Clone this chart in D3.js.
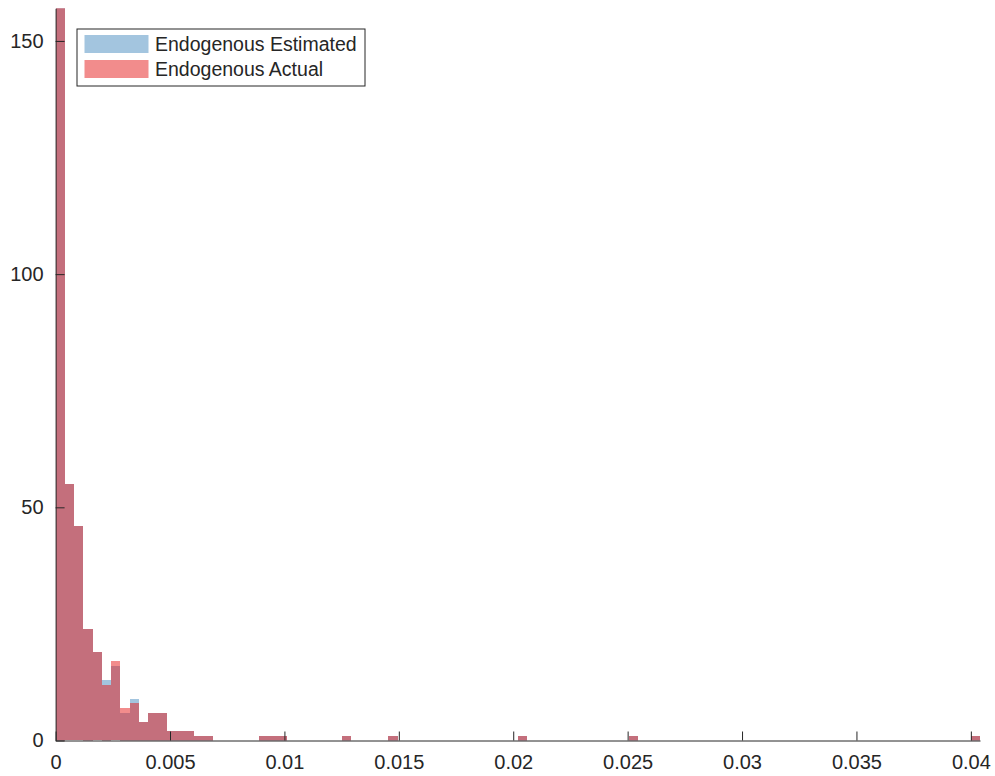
<!DOCTYPE html>
<html>
<head>
<meta charset="utf-8">
<script src="https://cdn.jsdelivr.net/npm/d3@7"></script>
<style>
    body { margin: 0; background: #fff; }
    text { font-family: "Liberation Sans", Arial, sans-serif; fill: #262626; }
</style>
</head>
<body>
<div id="chart"></div>
<script>
// Histogram bins (width 0.000404, starting at 0)
var binWidth = 0.000404;
var estimatedCounts = [
    157, 55, 46, 24, 19, 13, 16, 6, 9, 4,
    6, 6, 2, 2, 2, 1, 1, 0, 0, 0,
    0, 0, 1, 1, 1, 0, 0, 0, 0, 0,
    0, 1, 0, 0, 0, 0, 1, 0, 0, 0,
    0, 0, 0, 0, 0, 0, 0, 0, 0, 0,
    1, 0, 0, 0, 0, 0, 0, 0, 0, 0,
    0, 0, 1, 0, 0, 0, 0, 0, 0, 0,
    0, 0, 0, 0, 0, 0, 0, 0, 0, 0,
    0, 0, 0, 0, 0, 0, 0, 0, 0, 0,
    0, 0, 0, 0, 0, 0, 0, 0, 0, 1
];
var actualCounts = [
    157, 55, 46, 24, 19, 12, 17, 7, 8, 4,
    6, 6, 2, 2, 2, 1, 1, 0, 0, 0,
    0, 0, 1, 1, 1, 0, 0, 0, 0, 0,
    0, 1, 0, 0, 0, 0, 1, 0, 0, 0,
    0, 0, 0, 0, 0, 0, 0, 0, 0, 0,
    1, 0, 0, 0, 0, 0, 0, 0, 0, 0,
    0, 0, 1, 0, 0, 0, 0, 0, 0, 0,
    0, 0, 0, 0, 0, 0, 0, 0, 0, 0,
    0, 0, 0, 0, 0, 0, 0, 0, 0, 0,
    0, 0, 0, 0, 0, 0, 0, 0, 0, 1
];
var xTicks = [0, 0.005, 0.01, 0.015, 0.02, 0.025, 0.03, 0.035, 0.04];
var xTickLabels = ["0", "0.005", "0.01", "0.015", "0.02", "0.025", "0.03", "0.035", "0.04"];
var yTicks = [0, 50, 100, 150];
var seriesNames = ["Endogenous Estimated", "Endogenous Actual"];

var svgWidth = 995;
var svgHeight = 776;
var margin = { top: 8.3, right: 15, bottom: 35.5, left: 55.6 };
var width = svgWidth - margin.left - margin.right;
var height = svgHeight - margin.top - margin.bottom;

var estColor = "#1a6fb0", estAlpha = 0.4;
var actColor = "#e61a1a", actAlpha = 0.5;
var axisColor = "#262626";

var svg = d3.select("#chart")
    .append("svg")
    .attr("width", svgWidth)
    .attr("height", svgHeight);

var chartGroup = svg.append("g")
    .attr("transform", `translate(${margin.left}, ${margin.top})`);

var xScale = d3.scaleLinear()
    .domain([0, binWidth * estimatedCounts.length])
    .range([0, width]);

var yScale = d3.scaleLinear()
    .domain([0, 157])
    .range([height, 0]);

chartGroup.append("clipPath")
    .attr("id", "plotClip")
    .append("rect")
    .attr("width", width)
    .attr("height", height);

var barsGroup = chartGroup.append("g").attr("clip-path", "url(#plotClip)");

function drawBars(counts, color, alpha) {
    var bins = counts.map((c, i) => ({ i: i, c: c })).filter(d => d.c > 0);
    barsGroup.append("g")
        .selectAll("rect")
        .data(bins)
        .enter()
        .append("rect")
        .attr("x", d => xScale(d.i * binWidth))
        .attr("width", d => xScale((d.i + 1) * binWidth) - xScale(d.i * binWidth))
        .attr("y", d => yScale(d.c))
        .attr("height", d => height - yScale(d.c))
        .attr("fill", color)
        .attr("fill-opacity", alpha)
        .attr("shape-rendering", "crispEdges");
}

drawBars(estimatedCounts, estColor, estAlpha);
drawBars(actualCounts, actColor, actAlpha);

// Axes, ticks pointing inward
var bottomAxis = d3.axisBottom(xScale)
    .tickValues(xTicks)
    .tickFormat((d, i) => xTickLabels[i])
    .tickSizeInner(-9)
    .tickSizeOuter(0)
    .tickPadding(14);

var leftAxis = d3.axisLeft(yScale)
    .tickValues(yTicks)
    .tickSizeInner(-9)
    .tickSizeOuter(0)
    .tickPadding(12);

var xAxis = chartGroup.append("g")
    .attr("transform", `translate(0, ${height})`)
    .call(bottomAxis);

var yAxis = chartGroup.append("g")
    .call(leftAxis);

[xAxis, yAxis].forEach(function(ax) {
    ax.select(".domain").attr("stroke", axisColor).attr("stroke-width", 1);
    ax.selectAll(".tick line").attr("stroke", axisColor).attr("stroke-width", 1);
    ax.selectAll(".tick text")
        .attr("font-size", "20px")
        .attr("fill", axisColor)
        .attr("font-family", "Liberation Sans, Arial, sans-serif");
});

// Legend
var legend = svg.append("g")
    .attr("transform", "translate(77, 29)");

legend.append("rect")
    .attr("width", 288)
    .attr("height", 57)
    .attr("fill", "#fff")
    .attr("stroke", axisColor)
    .attr("stroke-width", 1);

var legendColors = [[estColor, estAlpha], [actColor, actAlpha]];

seriesNames.forEach(function(name, i) {
    legend.append("rect")
        .attr("x", 7.5)
        .attr("y", 6 + i * 25)
        .attr("width", 64)
        .attr("height", 18)
        .attr("fill", legendColors[i][0])
        .attr("fill-opacity", legendColors[i][1]);
    legend.append("text")
        .attr("x", 78)
        .attr("y", 15 + i * 25)
        .attr("dy", "0.35em")
        .attr("font-size", "19.5px")
        .text(name);
});
</script>
</body>
</html>
